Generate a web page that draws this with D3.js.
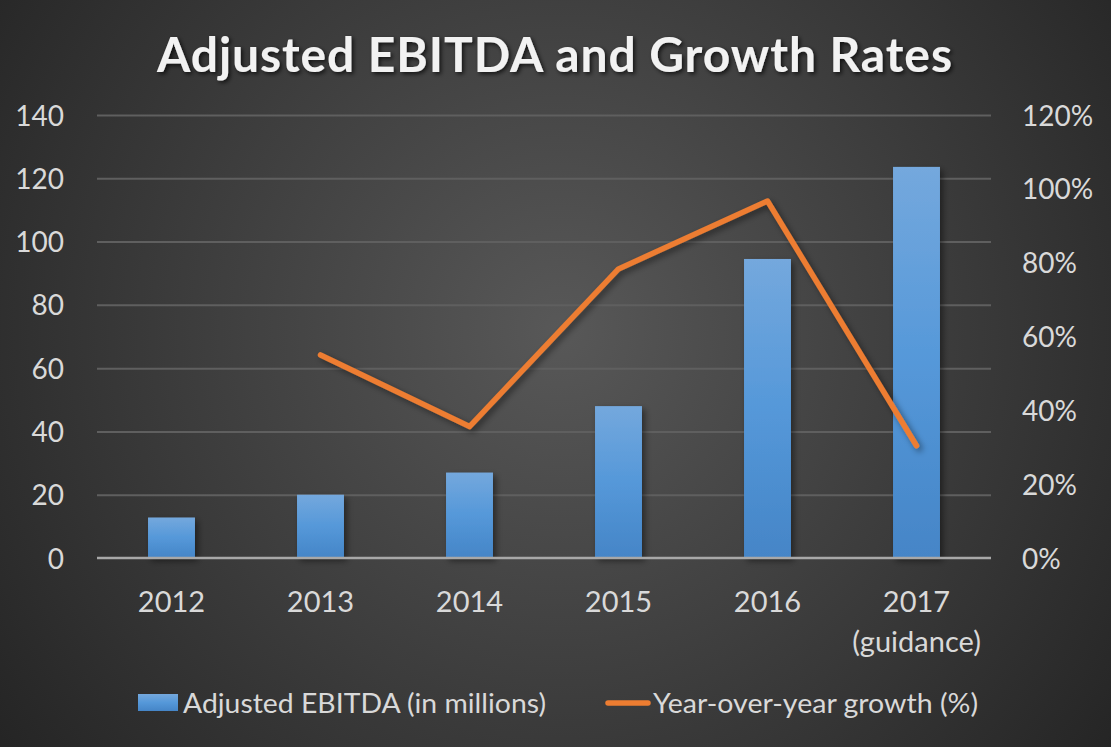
<!DOCTYPE html>
<html>
<head>
<meta charset="utf-8">
<script src="https://cdn.jsdelivr.net/npm/d3@7"></script>
<style>
  html, body { margin: 0; padding: 0; background: #2a2a2a; }
  svg { display: block; }
  text { font-family: Lato, "Open Sans", sans-serif; }
</style>
</head>
<body>
<svg id="chart" width="1111" height="747"></svg>
<script>
// ---- data ----
const categories = ["2012", "2013", "2014", "2015", "2016", "2017\n(guidance)"];
const ebitda = [12.8, 20, 27, 48, 94.5, 123.6];            // Adjusted EBITDA (in millions)
const growth = [null, 0.55, 0.356, 0.783, 0.967, 0.304];   // Year-over-year growth
const leftTicks = [0, 20, 40, 60, 80, 100, 120, 140];
const rightTicks = [0, 0.2, 0.4, 0.6, 0.8, 1.0, 1.2];
const titleText = "Adjusted EBITDA and Growth Rates";
const seriesNames = ["Adjusted EBITDA (in millions)", "Year-over-year growth (%)"];

// ---- layout ----
const W = 1111, H = 747;
const plot = { left: 97, right: 991, top: 115, bottom: 558 };

const svg = d3.select("#chart");
const defs = svg.append("defs");

// background radial gradient
const bg = defs.append("radialGradient").attr("id", "bg")
  .attr("gradientUnits", "userSpaceOnUse")
  .attr("cx", 560).attr("cy", 330).attr("r", 720);
bg.append("stop").attr("offset", "0%").attr("stop-color", "#585858");
bg.append("stop").attr("offset", "100%").attr("stop-color", "#232323");

// bar gradient
const bar = defs.append("linearGradient").attr("id", "barGrad")
  .attr("x1", 0).attr("y1", 0).attr("x2", 0).attr("y2", 1);
bar.append("stop").attr("offset", "0%").attr("stop-color", "#74A8DD");
bar.append("stop").attr("offset", "50%").attr("stop-color", "#5598D9");
bar.append("stop").attr("offset", "100%").attr("stop-color", "#4585C7");

// shadows
const sh = defs.append("filter").attr("id", "shadow")
  .attr("x", "-20%").attr("y", "-20%").attr("width", "140%").attr("height", "140%");
sh.append("feDropShadow").attr("dx", 3).attr("dy", 3).attr("stdDeviation", 3)
  .attr("flood-color", "#000").attr("flood-opacity", 0.45);
const tsh = defs.append("filter").attr("id", "tshadow")
  .attr("x", "-5%").attr("y", "-20%").attr("width", "110%").attr("height", "150%");
tsh.append("feDropShadow").attr("dx", 2).attr("dy", 2).attr("stdDeviation", 2)
  .attr("flood-color", "#000").attr("flood-opacity", 0.7);

svg.append("rect").attr("width", W).attr("height", H).attr("fill", "url(#bg)");

// ---- scales ----
const x = d3.scaleBand().domain(categories).range([plot.left, plot.right]).paddingInner(0.685).paddingOuter(0.3425);
const yL = d3.scaleLinear().domain([0, 140]).range([plot.bottom, plot.top]);
const yR = d3.scaleLinear().domain([0, 1.2]).range([plot.bottom, plot.top]);

// ---- gridlines ----
const grid = svg.append("g").attr("transform", `translate(${plot.left},0)`)
  .call(d3.axisLeft(yL).tickValues(leftTicks.filter(d => d > 0)).tickSize(-(plot.right - plot.left)).tickFormat(""));
grid.select(".domain").remove();
grid.selectAll("line").attr("stroke", "#5f5f5f").attr("stroke-width", 2);

// ---- left axis ----
const gl = svg.append("g").attr("transform", `translate(64,0)`)
  .call(d3.axisLeft(yL).tickValues(leftTicks).tickSize(0).tickPadding(0));
gl.select(".domain").remove();
gl.selectAll("text").attr("fill", "#d9d9d9").style("font-size", "28px")
  .style("font-family", "Lato, sans-serif").attr("dy", "0.36em");

// ---- right axis ----
const gr = svg.append("g").attr("transform", `translate(1022,0)`)
  .call(d3.axisRight(yR).tickValues(rightTicks).tickSize(0).tickPadding(0).tickFormat(d3.format(".0%")));
gr.select(".domain").remove();
gr.selectAll("text").attr("fill", "#d9d9d9").style("font-size", "28px")
  .style("font-family", "Lato, sans-serif").attr("dy", "0.36em");

// ---- bars ----
svg.append("g").selectAll("rect").data(ebitda).join("rect")
  .attr("x", (d, i) => x(categories[i]))
  .attr("width", x.bandwidth())
  .attr("y", d => yL(d))
  .attr("height", d => yL(0) - yL(d))
  .attr("fill", "url(#barGrad)")
  .attr("filter", "url(#shadow)");

// ---- baseline ----
svg.append("line").attr("x1", plot.left).attr("x2", plot.right)
  .attr("y1", yL(0)).attr("y2", yL(0)).attr("stroke", "#a8a8a8").attr("stroke-width", 2.5);

// ---- line ----
const line = d3.line()
  .defined(d => d != null)
  .x((d, i) => x(categories[i]) + x.bandwidth() / 2)
  .y(d => yR(d));
svg.append("path").datum(growth)
  .attr("d", line)
  .attr("fill", "none").attr("stroke", "#ED7D31").attr("stroke-width", 5.5)
  .attr("stroke-linejoin", "round").attr("stroke-linecap", "round")
  .attr("filter", "url(#shadow)");

// ---- category labels ----
const gx = svg.append("g").attr("transform", `translate(0,${plot.bottom})`)
  .call(d3.axisBottom(x).tickSize(0).tickFormat(""));
gx.select(".domain").remove();
gx.selectAll(".tick").each(function (d) {
  const lines = d.split("\n");
  const t = d3.select(this).append("text").attr("fill", "#d9d9d9")
    .attr("text-anchor", "middle").style("font-size", "29px");
  lines.forEach((l, k) => {
    t.append("tspan").attr("x", 0).attr("y", 54 + k * 40).text(l);
  });
});

// ---- title ----
svg.append("text").attr("x", W / 2 - 1).attr("y", 72)
  .attr("text-anchor", "middle")
  .attr("fill", "#f2f2f2")
  .style("font-size", "48px").style("font-weight", "bold")
  .attr("textLength", 795).attr("lengthAdjust", "spacing")
  .attr("filter", "url(#tshadow)")
  .text(titleText);

// ---- legend ----
const lg = svg.append("g");
lg.append("rect").attr("x", 138).attr("y", 694).attr("width", 40).attr("height", 17)
  .attr("fill", "url(#barGrad)");
lg.append("text").attr("x", 183).attr("y", 713).attr("fill", "#d9d9d9")
  .style("font-size", "27px").attr("textLength", 363).attr("lengthAdjust", "spacingAndGlyphs")
  .text(seriesNames[0]);
lg.append("line").attr("x1", 608).attr("x2", 648).attr("y1", 703).attr("y2", 703)
  .attr("stroke", "#ED7D31").attr("stroke-width", 5.5).attr("stroke-linecap", "round");
lg.append("text").attr("x", 653).attr("y", 713).attr("fill", "#d9d9d9")
  .style("font-size", "27px").attr("textLength", 325).attr("lengthAdjust", "spacingAndGlyphs")
  .text(seriesNames[1]);
</script>
</body>
</html>
